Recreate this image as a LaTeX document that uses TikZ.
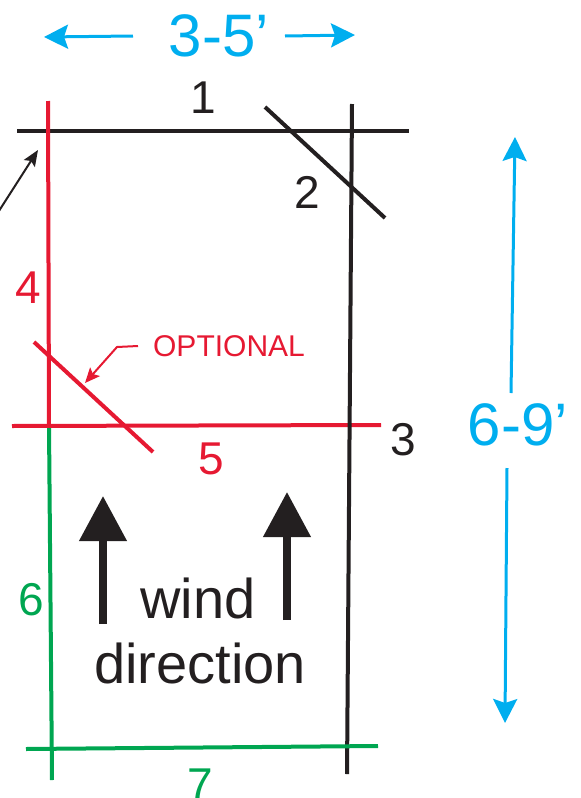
\documentclass[tikz,border=0pt]{standalone}
\usepackage{fontspec}
\setmainfont{Liberation Sans}
\usetikzlibrary{arrows.meta}
\definecolor{ublue}{RGB}{0,174,239}
\definecolor{ured}{RGB}{230,25,50}
\definecolor{ugreen}{RGB}{0,166,81}
\definecolor{ublack}{RGB}{35,31,32}
\tikzset{
  bar/.style={line width=4pt},
  lbl/.style={inner sep=0pt, anchor=base, font=\fontsize{46}{46}\selectfont},
  dim/.style={ublue, line width=3pt, -{Stealth[length=24pt,width=24pt,inset=4pt]}},
  dimtxt/.style={inner sep=0pt, anchor=base, text=ublue, font=\fontsize{60}{60}\selectfont},
  windarrow/.style={ublack, line width=7.5pt, -{Triangle[length=45pt,width=46pt]}},
  windtxt/.style={inner sep=0pt, anchor=base, text=ublack, font=\fontsize{56}{56}\selectfont},
}
\begin{document}
\begin{tikzpicture}[x=1pt,y=-1pt]
\useasboundingbox (0,0) rectangle (581,798);
% coordinates
\coordinate (l1a) at (17,131);   \coordinate (l1b) at (409,131);
\coordinate (l2a) at (265,107);  \coordinate (l2b) at (385,218);
\coordinate (rvTop) at (48,101); \coordinate (rvMid) at (49,425); \coordinate (rvBot) at (52,780);
\coordinate (bvTop) at (352,104);\coordinate (bvBot) at (347,774);
\coordinate (l3a) at (12,426);   \coordinate (l3b) at (381,425);
\coordinate (l7a) at (26,749);   \coordinate (l7b) at (378,746);
\coordinate (opta) at (34,342);  \coordinate (optb) at (153,452);
% line 1
\draw[ublack,bar] (l1a) -- (l1b);
% line 2
\draw[ublack,bar] (l2a) -- (l2b);
% line 4 red vertical and 6 green vertical
\draw[ured,bar] (rvTop) -- (rvMid);
\draw[ugreen,bar] (rvMid) -- (rvBot);
% optional diagonal
\draw[ured,bar] (opta) -- (optb);
% line 5/3 horizontal
\draw[ured,bar] (l3a) -- (l3b);
% black right vertical
\draw[ublack,bar] (bvTop) -- (bvBot);
% line 7
\draw[ugreen,bar] (l7a) -- (l7b);
% small pointer arrow top-left
\coordinate (pstart) at (-3,214);
\coordinate (ptip) at (38,150);
\draw[ublack,line width=2pt,-{Stealth[length=16pt,width=13pt,inset=3pt]}] (pstart) -- (ptip);
% OPTIONAL leader
\node[lbl,anchor=base,text=ured,font=\fontsize{30}{30}\selectfont] (opt) at (229,356) {OPTIONAL};
\coordinate (ld1) at (138,346);
\coordinate (ld2) at (117,347);
\coordinate (ldtip) at (85,383);
\draw[ured,line width=2pt,-{Stealth[length=15pt,width=13pt,inset=3pt]}] (ld1) -- (ld2) -- (ldtip);
% number labels
\node[lbl,text=ublack] (n1) at (203,113) {1};
\node[lbl,text=ublack] (n2) at (307,208) {2};
\node[lbl,text=ublack] (n3) at (403,455) {3};
\node[lbl,text=ured]   (n4) at (28,303) {4};
\node[lbl,text=ured]   (n5) at (211,474) {5};
\node[lbl,text=ugreen] (n6) at (31,615) {6};
\node[lbl,text=ugreen] (n7) at (200,800) {7};
% dimensions
\node[dimtxt] (w) at (219,56) {3-5’};
\coordinate (wl1) at (133,36); \coordinate (wl2) at (44,37);
\coordinate (wr1) at (285,36); \coordinate (wr2) at (355,35);
\draw[dim] (wl1) -- (wl2);
\draw[dim] (wr1) -- (wr2);
\node[dimtxt] (h) at (518,445) {6-9’};
\coordinate (ht1) at (511,393); \coordinate (ht2) at (515,137);
\coordinate (hb1) at (507,468); \coordinate (hb2) at (505,723);
\draw[dim] (ht1) -- (ht2);
\draw[dim] (hb1) -- (hb2);
% wind arrows
\coordinate (wa1) at (103,624); \coordinate (wa2) at (103,496);
\coordinate (wb1) at (287,620); \coordinate (wb2) at (287,492);
\draw[windarrow] (wa1) -- (wa2);
\draw[windarrow] (wb1) -- (wb2);
\node[windtxt] (wind) at (198,618) {wind};
\node[windtxt] (dir) at (200,683) {direction};
\end{tikzpicture}
\end{document}
